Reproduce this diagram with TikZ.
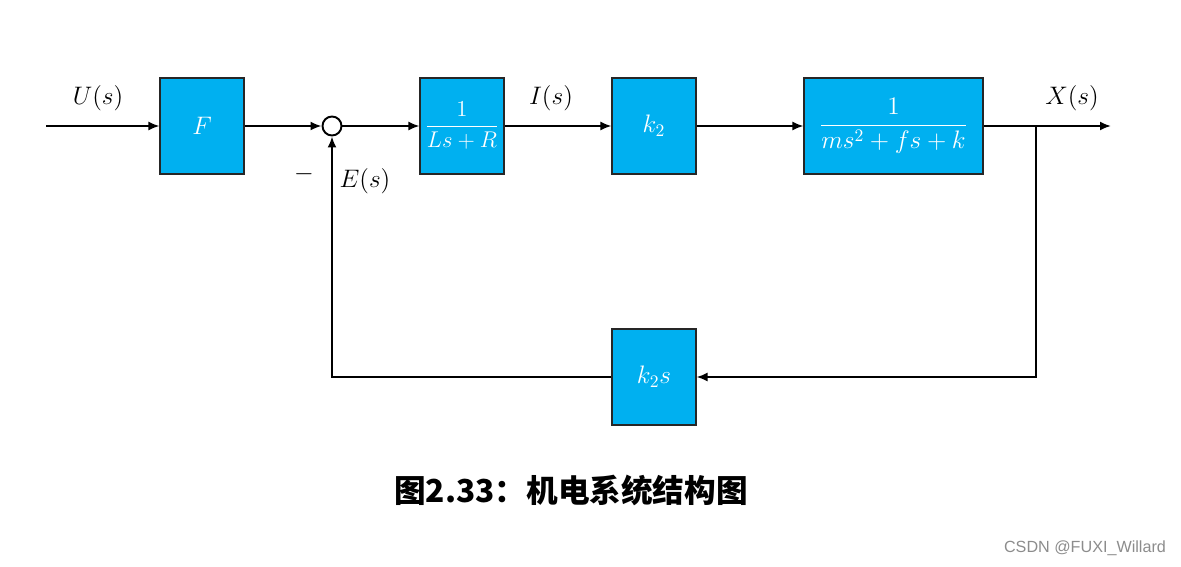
\documentclass[tikz,border=0pt]{standalone}
\usepackage{amsmath}
\usepackage{fontspec}
\setsansfont{Liberation Sans}
\newfontfamily\cjk{Noto Sans CJK SC}
\usetikzlibrary{arrows.meta,positioning,calc}
\definecolor{blkblue}{HTML}{00B0F0}

\begin{document}
\begin{tikzpicture}[
  x=0.02cm, y=-0.02cm,
  font=\fontsize{14}{16}\selectfont,
  blk/.style={draw=black!85, line width=0.6pt, fill=blkblue, text=white,
    minimum width=1.68cm, minimum height=1.92cm, inner sep=0pt},
  sig/.style={line width=1.1pt, -{Latex[length=2.2mm, width=1.8mm]}},
  lbl/.style={inner sep=1pt},
]
  \useasboundingbox (0,0) rectangle (1181,566);

  \node[blk] (gf) at (202,126) {$F$};
  \node[circle, draw, line width=1.1pt, minimum size=0.38cm, inner sep=0pt] (sum) at (332,126) {};
  \node[blk] (gi) at (462,126) {\scalebox{0.9}{$\dfrac{1}{Ls+R}$}};
  \node[blk] (gk) at (654,126) {$k_2$};
  \node[blk, minimum width=3.58cm] (gx) at (893.5,126) {$\dfrac{1}{ms^2+fs+k}$};
  \node[blk] (gh) at (654,377) {$k_2s$};

  \coordinate (in) at (46,126);
  \coordinate (out) at (1111,126);
  \coordinate (br) at (1036,126);

  \draw[sig] (in) -- (gf);
  \draw[sig] (gf) -- (sum);
  \draw[sig] (sum) -- (gi);
  \draw[sig] (gi) -- (gk);
  \draw[sig] (gk) -- (gx);
  \draw[sig] (gx) -- (out);
  \draw[sig] (br) |- (gh);
  \draw[sig] (gh) -| (sum);

  \node[lbl] (u) at (98,98) {$U(s)$};
  \node[lbl] (i) at (551,98) {$I(s)$};
  \node[lbl] (x) at (1072,98) {$X(s)$};
  \node[lbl] (minus) at (304,174) {$-$};
  \node[lbl] (e) at (365,181) {$E(s)$};

  \node[font=\cjk\bfseries\fontsize{18}{20}\selectfont] (cap) at (571,490) {图2.33：机电系统结构图};
  \node[font=\sffamily\fontsize{9.2}{11}\selectfont, text=black!45] (wm) at (1085,548) {CSDN @FUXI\_Willard};
\end{tikzpicture}
\end{document}
